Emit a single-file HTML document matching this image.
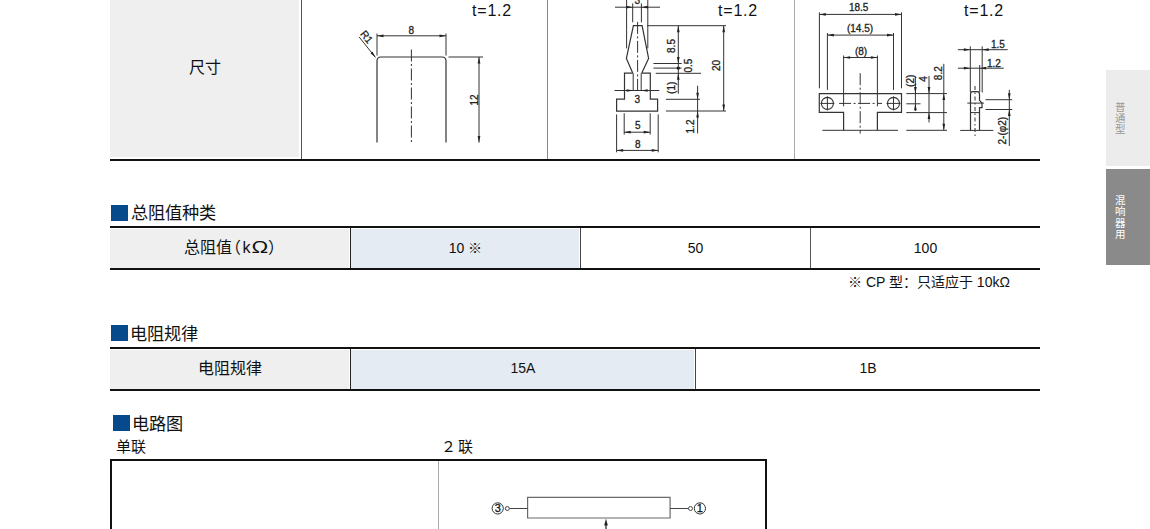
<!DOCTYPE html>
<html lang="zh-CN">
<head>
<meta charset="utf-8">
<style>
html,body{margin:0;padding:0;background:#fff;}
body{width:1150px;height:529px;overflow:hidden;position:relative;font-family:"Liberation Sans",sans-serif;color:#111;}
.a{position:absolute;}
.gray{background:#efefef;}
.blue{background:#e5ebf2;}
.hb{position:absolute;height:2px;background:#111;}
.vl{position:absolute;width:1px;}
.sq{position:absolute;background:#074a8c;}
.h{position:absolute;font-size:17.2px;line-height:18px;white-space:nowrap;color:#111;}
.c{position:absolute;font-size:16px;line-height:16px;white-space:nowrap;text-align:center;}
.n{position:absolute;font-size:14px;line-height:14px;white-space:nowrap;text-align:center;}
</style>
</head>
<body>
<!-- Table 1 (dimensions) -->
<div class="a gray" style="left:110px;top:0;width:189px;height:157px;"></div>
<div class="vl" style="left:301px;top:0;height:159px;background:#555;"></div>
<div class="vl" style="left:547px;top:0;height:159px;background:#888;"></div>
<div class="vl" style="left:794px;top:0;height:159px;background:#aaa;"></div>
<div class="hb" style="left:110px;top:159px;width:930px;"></div>
<div class="c" style="left:110px;top:60px;width:190px;">尺寸</div>
<div class="a" style="left:472px;top:2px;letter-spacing:0.8px;font-size:16px;line-height:18px;">t=1.2</div>
<div class="a" style="left:718px;top:2px;letter-spacing:0.8px;font-size:16px;line-height:18px;">t=1.2</div>
<div class="a" style="left:964px;top:2px;letter-spacing:0.8px;font-size:16px;line-height:18px;">t=1.2</div>

<!-- Heading 2 -->
<div class="sq" style="left:111px;top:205px;width:17px;height:16px;"></div>
<div class="h" style="left:130.5px;top:204px;">总阻值种类</div>
<!-- Table 2 -->
<div class="hb" style="left:110px;top:226px;width:930px;"></div>
<div class="a gray" style="left:110px;top:229px;width:239px;height:39px;"></div>
<div class="a blue" style="left:351px;top:229px;width:228px;height:39px;"></div>
<div class="vl" style="left:350px;top:228px;height:40px;background:#222;"></div>
<div class="vl" style="left:580px;top:228px;height:40px;background:#444;"></div>
<div class="vl" style="left:810px;top:228px;height:40px;background:#555;"></div>
<div class="hb" style="left:110px;top:268px;width:930px;"></div>
<div class="c" style="left:110px;top:240px;width:240px;">总阻值<span style="margin-left:-7px;margin-right:2px">（</span>k<span style="display:inline-block;transform:scaleX(1.4);margin:0 3px 0 3px">Ω</span><span style="margin-left:0px;margin-right:-8px">）</span></div>
<div class="n" style="left:351px;top:241px;width:229px;">10 ※</div>
<div class="n" style="left:581px;top:241px;width:229px;">50</div>
<div class="n" style="left:811px;top:241px;width:229px;">100</div>
<div class="a" style="left:848px;top:275px;font-size:14px;line-height:14px;white-space:nowrap;">※ CP 型：只适应于 10kΩ</div>

<!-- Heading 3 -->
<div class="sq" style="left:111px;top:325px;width:17px;height:16px;"></div>
<div class="h" style="left:130px;top:324.5px;">电阻规律</div>
<!-- Table 3 -->
<div class="hb" style="left:110px;top:347px;width:930px;"></div>
<div class="a gray" style="left:110px;top:350px;width:239px;height:39px;"></div>
<div class="a blue" style="left:351px;top:350px;width:343px;height:39px;"></div>
<div class="vl" style="left:350px;top:349px;height:40px;background:#222;"></div>
<div class="vl" style="left:695px;top:349px;height:40px;background:#444;"></div>
<div class="hb" style="left:110px;top:389px;width:930px;"></div>
<div class="c" style="left:110px;top:361px;width:240px;">电阻规律</div>
<div class="n" style="left:351px;top:361px;width:344px;">15A</div>
<div class="n" style="left:696px;top:361px;width:344px;">1B</div>

<!-- Heading 4 -->
<div class="sq" style="left:113px;top:415px;width:17px;height:16px;"></div>
<div class="h" style="left:132px;top:414.5px;">电路图</div>
<div class="a" style="left:116px;top:439px;font-size:15px;line-height:15px;">单联</div>
<div class="a" style="left:441px;top:439px;font-size:15px;line-height:15px;"><span style="margin-right:1.5px">２</span>联</div>
<!-- Circuit box -->
<div class="a" style="left:110px;top:459px;width:653px;height:80px;border:2px solid #111;border-bottom:none;"></div>
<div class="vl" style="left:438px;top:461px;height:70px;background:#aaa;"></div>

<!-- Side tabs -->
<div class="a" style="left:1106px;top:70px;width:44px;height:96px;background:#ececec;"></div>
<div class="a" style="left:1106px;top:169px;width:44px;height:96px;background:#8a8a8a;"></div>
<div class="a" style="left:1106px;top:102px;width:28px;font-size:10.5px;line-height:11.2px;color:#999;text-align:center;">普<br>通<br>型</div>
<div class="a" style="left:1106px;top:195px;width:28px;font-size:10.5px;line-height:11.4px;color:#fff;text-align:center;">混<br>响<br>器<br>用</div>
<!--SVG--><svg class="a" style="left:0;top:0" width="1150" height="529" viewBox="0 0 1150 529" font-family="Liberation Sans, sans-serif">
<path d="M377,142.6 V61 Q377,57 381,57 H442 Q446,57 446,61 V142.6" stroke="#333" stroke-width="1.2" fill="none"/>
<line x1="411.4" y1="49.5" x2="411.4" y2="143" stroke="#333" stroke-width="1.0" stroke-dasharray="12 2.5 2 2.5"/>
<line x1="377" y1="33.5" x2="377" y2="55.5" stroke="#333" stroke-width="1.0"/>
<line x1="446" y1="33.5" x2="446" y2="55.5" stroke="#333" stroke-width="1.0"/>
<line x1="377" y1="35.8" x2="446" y2="35.8" stroke="#333" stroke-width="1.0"/>
<polygon points="377.00,35.80 383.50,34.45 383.50,37.15" fill="#222"/>
<polygon points="446.00,35.80 439.50,37.15 439.50,34.45" fill="#222"/>
<text x="411.2" y="34.4" font-size="10" text-anchor="middle" fill="#222" stroke="#222" stroke-width="0.3">8</text>
<line x1="359.2" y1="37" x2="375.4" y2="57.4" stroke="#333" stroke-width="1.0"/>
<polygon points="375.60,57.60 370.50,53.35 372.61,51.67" fill="#222"/>
<text x="363.8" y="39.2" font-size="10.5" text-anchor="middle" fill="#222" stroke="#222" stroke-width="0.3" transform="rotate(51.5 363.8 39.2)">R1</text>
<line x1="448.5" y1="57" x2="483" y2="57" stroke="#333" stroke-width="1.0"/>
<line x1="479" y1="57" x2="479" y2="142.6" stroke="#333" stroke-width="1.0"/>
<polygon points="479.00,57.00 480.35,63.50 477.65,63.50" fill="#222"/>
<polygon points="479.00,142.60 477.65,136.10 480.35,136.10" fill="#222"/>
<text x="478.3" y="100" font-size="10" text-anchor="middle" fill="#222" stroke="#222" stroke-width="0.3" transform="rotate(-90 478.3 100)">12</text>
<line x1="615" y1="7.2" x2="660" y2="7.2" stroke="#333" stroke-width="1.0"/>
<line x1="626.6" y1="0" x2="626.6" y2="48.4" stroke="#333" stroke-width="1.0"/>
<line x1="647.8" y1="0" x2="647.8" y2="48.4" stroke="#333" stroke-width="1.0"/>
<line x1="632.7" y1="3.4" x2="632.7" y2="22.3" stroke="#333" stroke-width="1.0"/>
<line x1="641.4" y1="3.4" x2="641.4" y2="22.3" stroke="#333" stroke-width="1.0"/>
<polygon points="632.70,7.20 626.20,8.55 626.20,5.85" fill="#222"/>
<polygon points="641.40,7.20 647.90,5.85 647.90,8.55" fill="#222"/>
<text x="637.2" y="3.8" font-size="10" text-anchor="middle" fill="#222" stroke="#222" stroke-width="0.3">3</text>
<path d="M632.7,73.1 L626.4,58.4 L633.4,25.7 H642.1 L648.6,58.4 L641.8,73.1" stroke="#333" stroke-width="1.2" fill="none"/>
<path d="M632.7,73.1 H624.5 V99.2 H616.6 V111.1 H657.6 V99.2 H650.3 V73.1 H641.8" stroke="#333" stroke-width="1.2" fill="none"/>
<line x1="637.6" y1="21.9" x2="637.6" y2="93" stroke="#333" stroke-width="1.0" stroke-dasharray="12 2.5 2 2.5"/>
<line x1="633.2" y1="73.1" x2="633.2" y2="90.7" stroke="#333" stroke-width="1.0"/>
<line x1="641.2" y1="73.1" x2="641.2" y2="90.7" stroke="#333" stroke-width="1.0"/>
<line x1="614.5" y1="90.5" x2="659.3" y2="90.5" stroke="#333" stroke-width="1.0"/>
<polygon points="633.20,90.50 626.70,91.85 626.70,89.15" fill="#222"/>
<polygon points="641.20,90.50 647.70,89.15 647.70,91.85" fill="#222"/>
<text x="637.4" y="102.6" font-size="10" text-anchor="middle" fill="#222" stroke="#222" stroke-width="0.3">3</text>
<line x1="647" y1="25.7" x2="726" y2="25.7" stroke="#333" stroke-width="1.0"/>
<line x1="653.4" y1="63.5" x2="681.7" y2="63.5" stroke="#333" stroke-width="1.0"/>
<line x1="653.4" y1="68.1" x2="681.7" y2="68.1" stroke="#333" stroke-width="1.0"/>
<line x1="655.7" y1="73.3" x2="701" y2="73.3" stroke="#333" stroke-width="1.0"/>
<circle cx="678.3" cy="68.1" r="1.7" stroke="#333" stroke-width="0" fill="#111"/>
<line x1="678.3" y1="25.7" x2="678.3" y2="93.7" stroke="#333" stroke-width="1.0"/>
<polygon points="678.30,25.70 679.65,32.20 676.95,32.20" fill="#222"/>
<polygon points="678.30,63.50 676.95,57.00 679.65,57.00" fill="#222"/>
<polygon points="678.30,73.30 679.65,79.80 676.95,79.80" fill="#222"/>
<text x="675" y="46" font-size="10" text-anchor="middle" fill="#222" stroke="#222" stroke-width="0.3" transform="rotate(-90 675 46)">8.5</text>
<text x="692" y="65.6" font-size="10" text-anchor="middle" fill="#222" stroke="#222" stroke-width="0.3" transform="rotate(-90 692 65.6)">0.5</text>
<text x="675.5" y="87.8" font-size="10" text-anchor="middle" fill="#222" stroke="#222" stroke-width="0.3" transform="rotate(-90 675.5 87.8)">(1)</text>
<line x1="665.9" y1="99.3" x2="700" y2="99.3" stroke="#333" stroke-width="1.0"/>
<line x1="665.9" y1="111" x2="726" y2="111" stroke="#333" stroke-width="1.0"/>
<line x1="723.7" y1="25.7" x2="723.7" y2="111" stroke="#333" stroke-width="1.0"/>
<polygon points="723.70,25.70 725.05,32.20 722.35,32.20" fill="#222"/>
<polygon points="723.70,111.00 722.35,104.50 725.05,104.50" fill="#222"/>
<text x="720.5" y="65.4" font-size="10" text-anchor="middle" fill="#222" stroke="#222" stroke-width="0.3" transform="rotate(-90 720.5 65.4)">20</text>
<line x1="697.6" y1="85.8" x2="697.6" y2="133.4" stroke="#333" stroke-width="1.0"/>
<polygon points="697.60,99.30 696.25,92.80 698.95,92.80" fill="#222"/>
<polygon points="697.60,111.00 698.95,117.50 696.25,117.50" fill="#222"/>
<text x="694.3" y="126.5" font-size="10" text-anchor="middle" fill="#222" stroke="#222" stroke-width="0.3" transform="rotate(-90 694.3 126.5)">1.2</text>
<line x1="616.6" y1="114.4" x2="616.6" y2="152.3" stroke="#333" stroke-width="1.0"/>
<line x1="658.2" y1="114.4" x2="658.2" y2="152.3" stroke="#333" stroke-width="1.0"/>
<line x1="624.2" y1="113.3" x2="624.2" y2="134.6" stroke="#333" stroke-width="1.0"/>
<line x1="650.2" y1="113.3" x2="650.2" y2="134.6" stroke="#333" stroke-width="1.0"/>
<line x1="624.2" y1="132.2" x2="650.2" y2="132.2" stroke="#333" stroke-width="1.0"/>
<polygon points="624.20,132.20 630.70,130.85 630.70,133.55" fill="#222"/>
<polygon points="650.20,132.20 643.70,133.55 643.70,130.85" fill="#222"/>
<text x="637.8" y="129.4" font-size="10" text-anchor="middle" fill="#222" stroke="#222" stroke-width="0.3">5</text>
<line x1="616.6" y1="150.4" x2="658.2" y2="150.4" stroke="#333" stroke-width="1.0"/>
<polygon points="616.60,150.40 623.10,149.05 623.10,151.75" fill="#222"/>
<polygon points="658.20,150.40 651.70,151.75 651.70,149.05" fill="#222"/>
<text x="637.8" y="148.3" font-size="10" text-anchor="middle" fill="#222" stroke="#222" stroke-width="0.3">8</text>
<line x1="819.4" y1="12.4" x2="819.4" y2="88.3" stroke="#333" stroke-width="1.0"/>
<line x1="901.5" y1="12.4" x2="901.5" y2="88.3" stroke="#333" stroke-width="1.0"/>
<line x1="819.4" y1="14.4" x2="901.5" y2="14.4" stroke="#333" stroke-width="1.0"/>
<polygon points="819.40,14.40 825.90,13.05 825.90,15.75" fill="#222"/>
<polygon points="901.50,14.40 895.00,15.75 895.00,13.05" fill="#222"/>
<text x="858.7" y="10.9" font-size="10" text-anchor="middle" fill="#222" stroke="#222" stroke-width="0.3">18.5</text>
<line x1="827.4" y1="33" x2="827.4" y2="89.9" stroke="#333" stroke-width="1.0"/>
<line x1="893.5" y1="33" x2="893.5" y2="89.9" stroke="#333" stroke-width="1.0"/>
<line x1="827.4" y1="35.1" x2="893.5" y2="35.1" stroke="#333" stroke-width="1.0"/>
<polygon points="827.40,35.10 833.90,33.75 833.90,36.45" fill="#222"/>
<polygon points="893.50,35.10 887.00,36.45 887.00,33.75" fill="#222"/>
<text x="860" y="32" font-size="10" text-anchor="middle" fill="#222" stroke="#222" stroke-width="0.3">(14.5)</text>
<line x1="843.6" y1="55.5" x2="843.6" y2="106.3" stroke="#333" stroke-width="1.0"/>
<line x1="877.4" y1="55.5" x2="877.4" y2="106.3" stroke="#333" stroke-width="1.0"/>
<line x1="843.6" y1="57.5" x2="877.4" y2="57.5" stroke="#333" stroke-width="1.0"/>
<polygon points="843.60,57.50 850.10,56.15 850.10,58.85" fill="#222"/>
<polygon points="877.40,57.50 870.90,58.85 870.90,56.15" fill="#222"/>
<text x="861" y="54.5" font-size="10" text-anchor="middle" fill="#222" stroke="#222" stroke-width="0.3">(8)</text>
<path d="M843.6,130.3 V112.4 H819.3 V93.6 H901.5 V112.4 H877.4 V130.3" stroke="#333" stroke-width="1.2" fill="none"/>
<line x1="822.3" y1="130.3" x2="898" y2="130.3" stroke="#333" stroke-width="1.0"/>
<circle cx="827.4" cy="103.4" r="6" stroke="#333" stroke-width="1.1" fill="none"/>
<line x1="820.4" y1="103.4" x2="834.4" y2="103.4" stroke="#333" stroke-width="1.0"/>
<line x1="827.4" y1="96.4" x2="827.4" y2="110.4" stroke="#333" stroke-width="1.0"/>
<circle cx="893.5" cy="103.4" r="6" stroke="#333" stroke-width="1.1" fill="none"/>
<line x1="886.5" y1="103.4" x2="900.5" y2="103.4" stroke="#333" stroke-width="1.0"/>
<line x1="893.5" y1="96.4" x2="893.5" y2="110.4" stroke="#333" stroke-width="1.0"/>
<line x1="860.2" y1="73.2" x2="860.2" y2="133.5" stroke="#333" stroke-width="1.0" stroke-dasharray="12 2.5 2 2.5"/>
<line x1="839.1" y1="103.4" x2="882" y2="103.4" stroke="#333" stroke-width="1.0" stroke-dasharray="12 2.5 2 2.5"/>
<line x1="906.3" y1="93.6" x2="947" y2="93.6" stroke="#333" stroke-width="1.0"/>
<line x1="906.3" y1="103.8" x2="920.5" y2="103.8" stroke="#333" stroke-width="1.0"/>
<line x1="906.3" y1="112.6" x2="947" y2="112.6" stroke="#333" stroke-width="1.0"/>
<line x1="906.3" y1="130.3" x2="947" y2="130.3" stroke="#333" stroke-width="1.0"/>
<line x1="915.4" y1="77" x2="915.4" y2="111" stroke="#333" stroke-width="1.0"/>
<polygon points="915.40,93.60 914.05,87.10 916.75,87.10" fill="#222"/>
<polygon points="915.40,103.80 916.75,110.30 914.05,110.30" fill="#222"/>
<text x="914.2" y="80.8" font-size="10" text-anchor="middle" fill="#222" stroke="#222" stroke-width="0.3" transform="rotate(-90 914.2 80.8)">(2)</text>
<line x1="929" y1="76" x2="929" y2="122.4" stroke="#333" stroke-width="1.0"/>
<polygon points="929.00,93.60 927.65,87.10 930.35,87.10" fill="#222"/>
<polygon points="929.00,112.60 930.35,119.10 927.65,119.10" fill="#222"/>
<text x="927.5" y="78.9" font-size="10" text-anchor="middle" fill="#222" stroke="#222" stroke-width="0.3" transform="rotate(-90 927.5 78.9)">4</text>
<line x1="943.8" y1="63.8" x2="943.8" y2="130.3" stroke="#333" stroke-width="1.0"/>
<polygon points="943.80,93.60 945.15,100.10 942.45,100.10" fill="#222"/>
<polygon points="943.80,130.30 942.45,123.80 945.15,123.80" fill="#222"/>
<text x="942.2" y="73.2" font-size="10" text-anchor="middle" fill="#222" stroke="#222" stroke-width="0.3" transform="rotate(-90 942.2 73.2)">8.2</text>
<line x1="957.8" y1="49.7" x2="1007.7" y2="49.7" stroke="#333" stroke-width="1.0"/>
<polygon points="970.30,49.70 963.80,51.05 963.80,48.35" fill="#222"/>
<polygon points="982.20,49.70 988.70,48.35 988.70,51.05" fill="#222"/>
<text x="991" y="48" font-size="10" text-anchor="start" fill="#222" stroke="#222" stroke-width="0.3">1.5</text>
<line x1="957.8" y1="68.2" x2="1003.8" y2="68.2" stroke="#333" stroke-width="1.0"/>
<polygon points="970.30,68.20 963.80,69.55 963.80,66.85" fill="#222"/>
<polygon points="979.70,68.20 986.20,66.85 986.20,69.55" fill="#222"/>
<text x="987" y="66.8" font-size="10" text-anchor="start" fill="#222" stroke="#222" stroke-width="0.3">1.2</text>
<line x1="970.3" y1="46.3" x2="970.3" y2="92" stroke="#333" stroke-width="1.0"/>
<line x1="982.2" y1="46.3" x2="982.2" y2="92.5" stroke="#333" stroke-width="1.0"/>
<line x1="979.7" y1="65" x2="979.7" y2="92" stroke="#333" stroke-width="1.0"/>
<path d="M970.5,130.4 V94 Q970.5,91.7 972.8,91.7 H977.2 Q979.5,91.7 979.5,94 V100.3 L982,103 V107.7 H979.5 V130.4" stroke="#333" stroke-width="1.2" fill="none"/>
<line x1="970.5" y1="112.6" x2="979.5" y2="112.6" stroke="#333" stroke-width="1.0"/>
<line x1="975" y1="86" x2="975" y2="137.2" stroke="#333" stroke-width="1.0" stroke-dasharray="4 2.5 1.5 2.5"/>
<line x1="967.3" y1="103.1" x2="983.9" y2="103.1" stroke="#333" stroke-width="1.0"/>
<line x1="960.2" y1="130.4" x2="993.4" y2="130.4" stroke="#333" stroke-width="1.0"/>
<line x1="985.5" y1="99.7" x2="1012.2" y2="99.7" stroke="#333" stroke-width="1.0"/>
<line x1="985.5" y1="109.5" x2="1012.2" y2="109.5" stroke="#333" stroke-width="1.0"/>
<line x1="1009.3" y1="89.8" x2="1009.3" y2="146" stroke="#333" stroke-width="1.0"/>
<polygon points="1009.30,99.70 1007.95,93.20 1010.65,93.20" fill="#222"/>
<polygon points="1009.30,109.50 1010.65,116.00 1007.95,116.00" fill="#222"/>
<text x="1006" y="130.7" font-size="10" text-anchor="middle" fill="#222" stroke="#222" stroke-width="0.3" transform="rotate(-90 1006 130.7)">2-(φ2)</text>
<path d="M527.6,497.4 H670.1 V518 H527.6 Z" stroke="#6a6a6a" stroke-width="1.2" fill="none"/>
<line x1="509.5" y1="508.5" x2="527.6" y2="508.5" stroke="#444" stroke-width="1.0"/>
<line x1="670.1" y1="508.5" x2="688.5" y2="508.5" stroke="#444" stroke-width="1.0"/>
<circle cx="507.3" cy="508.5" r="2" stroke="#444" stroke-width="1" fill="#fff"/>
<circle cx="690.5" cy="508.5" r="2" stroke="#444" stroke-width="1" fill="#fff"/>
<circle cx="497.7" cy="508.4" r="5.6" stroke="#333" stroke-width="1" fill="none"/>
<circle cx="699.9" cy="508.4" r="5.6" stroke="#333" stroke-width="1" fill="none"/>
<text x="497.8" y="512.4" font-size="11" text-anchor="middle" fill="#111" stroke="#111" stroke-width="0.3">3</text>
<text x="699.7" y="512.4" font-size="11" text-anchor="middle" fill="#111" stroke="#111" stroke-width="0.3">1</text>
<line x1="606" y1="524" x2="606" y2="530" stroke="#222" stroke-width="1.2"/>
<polygon points="606.00,518.60 607.80,525.60 604.20,525.60" fill="#222"/>
</svg><!--/SVG-->
</body>
</html>
